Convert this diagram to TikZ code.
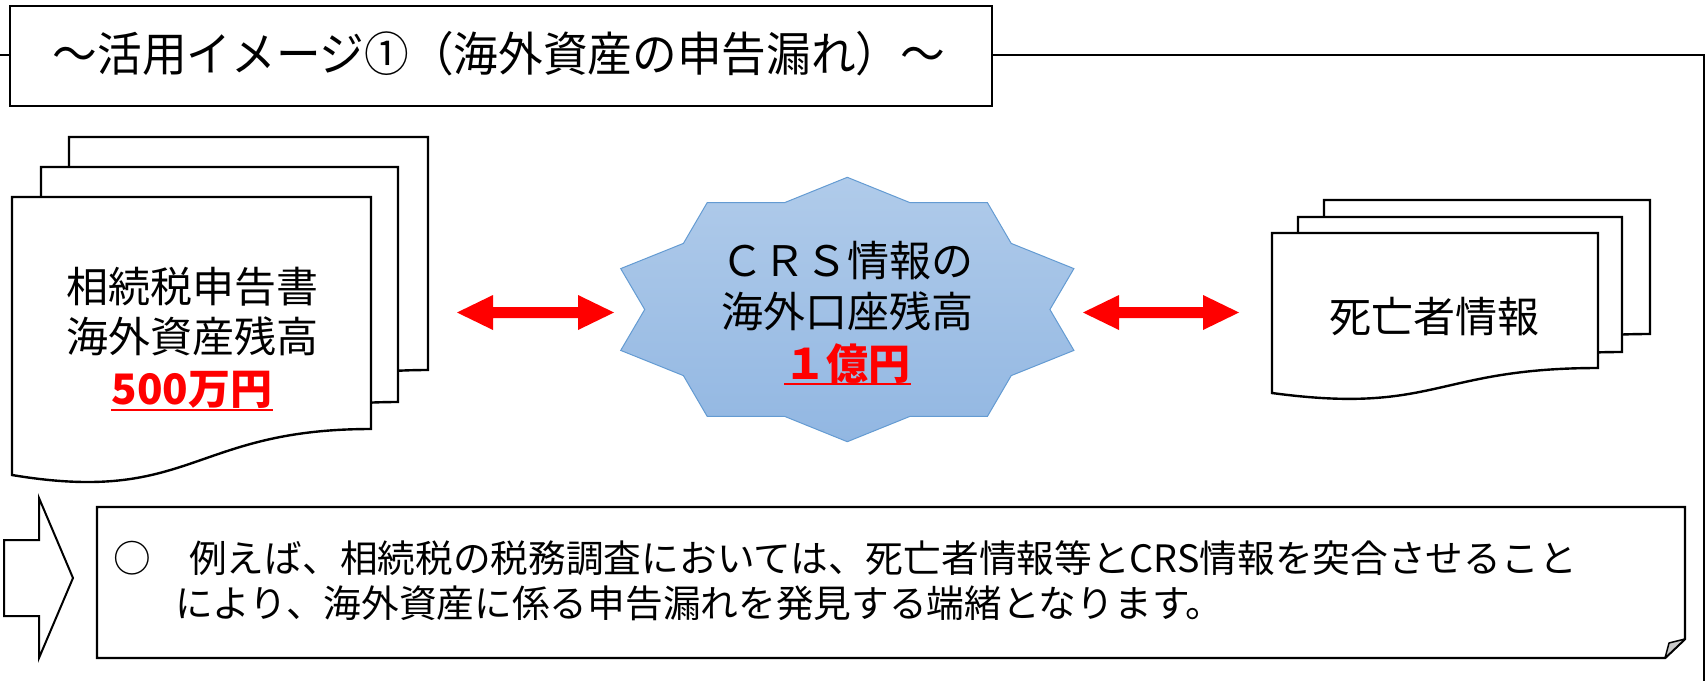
\documentclass[tikz,border=0pt]{standalone}
\usepackage{fontspec}
\setmainfont{Noto Sans CJK JP}
\newfontfamily\titlefont[FakeStretch=0.95]{Noto Sans CJK JP}
\usetikzlibrary{calc}
\definecolor{starline}{RGB}{100,155,210}
\definecolor{startop}{RGB}{176,203,234}
\definecolor{starbot}{RGB}{146,183,226}
\definecolor{flapgray}{RGB}{200,200,200}
\definecolor{pptred}{RGB}{255,0,0}
\tikzset{
  docline/.style={draw=black, line width=2.4pt, fill=white, line join=miter},
  boxline/.style={draw=black, line width=2.4pt, fill=white},
  frameline/.style={draw=black, line width=2pt},
  starsty/.style={draw=starline, line width=1pt, top color=startop, bottom color=starbot},
  arrowred/.style={fill=pptred},
  doctext/.style={anchor=base, inner sep=0pt, font=\fontsize{42}{50}\selectfont},
  amount/.style={anchor=base, inner sep=0pt, text=pptred, font=\fontsize{42}{50}\selectfont\bfseries},
  bodytext/.style={anchor=base west, inner sep=0pt, font=\fontsize{37.7}{46}\selectfont},
}
% x y w hr hl c
\newcommand\mydoc[6]{%
  \draw[docline] (#1,#2) -- ++(#3,0) -- ++(0,#4)
    .. controls +({-#3/2},0) and ({#1+#3/2},{#2+#6}) .. (#1,{#2+#5}) -- cycle;}
\newcommand\dblarrow[2]{%
  \fill[arrowred] (#1) -- ($(#1)+(36,-17.5)$) -- ($(#1)+(36,-5.5)$)
    -- ($(#2)+(-36,-5.5)$) -- ($(#2)+(-36,-17.5)$) -- (#2)
    -- ($(#2)+(-36,17.5)$) -- ($(#2)+(-36,5.5)$)
    -- ($(#1)+(36,5.5)$) -- ($(#1)+(36,17.5)$) -- cycle;}
\begin{document}
\begin{tikzpicture}[x=1pt,y=-1pt]
\useasboundingbox (0,0) rectangle (1707,681);
% outer frame
\draw[frameline] (0,55) -- (1704,55) -- (1704,681);
% title
\draw[boxline] (10,6) rectangle (992,106);
\node[anchor=base, inner sep=0pt] (title) at (499,71.5)
  {\titlefont\fontsize{47}{47}\selectfont ～活用イメージ①（海外資産の申告漏れ）～};
% left document stack
\mydoc{69}{137}{359}{233}{278}{308}
\mydoc{41}{167}{357}{235}{278}{308}
\mydoc{12}{197}{359}{232}{278}{308}
\node[doctext] (l1) at (192,302.5) {相続税申告書};
\node[doctext] (l2) at (192,352.5) {海外資産残高};
\node[amount] (l3) at (192,404) {500万円};
\draw[pptred, line width=2.5pt] ([yshift=-6pt]l3.base west) -- ([yshift=-6pt]l3.base east);
% star
\draw[starsty] (847.3,177.3) -- (909.9,202.6) -- (987.4,202.6) -- (1011.2,243.4)
  -- (1073.9,268.6) -- (1049.9,309.5) -- (1073.9,350.4) -- (1011.2,375.6)
  -- (987.4,416.4) -- (909.9,416.4) -- (847.3,441.7) -- (784.7,416.4)
  -- (707.2,416.4) -- (683.4,375.6) -- (620.7,350.4) -- (644.7,309.5)
  -- (620.7,268.6) -- (683.4,243.4) -- (707.2,202.6) -- (784.7,202.6) -- cycle;
\node[doctext] (s1) at (847.3,276.5) {ＣＲＳ情報の};
\node[doctext] (s2) at (847.3,327.5) {海外口座残高};
\node[amount] (s3) at (847.3,379) {１億円};
\draw[pptred, line width=2.5pt] ([yshift=-5pt]s3.base west) -- ([yshift=-5pt]s3.base east);
% right document stack
\mydoc{1324}{200}{326}{134}{160}{182}
\mydoc{1298}{217}{324}{135}{160}{182}
\mydoc{1272}{233}{326}{135}{160}{182}
\node[doctext] (r1) at (1434,332) {死亡者情報};
% red double arrows
\coordinate (la) at (457,312.5);
\coordinate (lb) at (614,312.5);
\coordinate (ra) at (1083,312.5);
\coordinate (rb) at (1239,312.5);
\dblarrow{la}{lb}
\dblarrow{ra}{rb}
% block arrow
\draw[boxline, line width=2pt] (4,540) -- (39,540) -- (39,498) -- (73,578)
  -- (39,658) -- (39,616) -- (4,616) -- cycle;
% bottom box with folded corner
\draw[boxline] (97,507) -- (1685,507) -- (1685,639) -- (1665,658) -- (97,658) -- cycle;
\draw[draw=black, line width=1.5pt, fill=flapgray, line join=round]
  (1685,639) -- (1669,643) -- (1665,658) -- cycle;
\node[bodytext] (b1) at (113.6,572) {○　例えば、相続税の税務調査においては、死亡者情報等とCRS情報を突合させること};
\node[bodytext] (b2) at (175,617) {により、海外資産に係る申告漏れを発見する端緒となります。};
\end{tikzpicture}
\end{document}
